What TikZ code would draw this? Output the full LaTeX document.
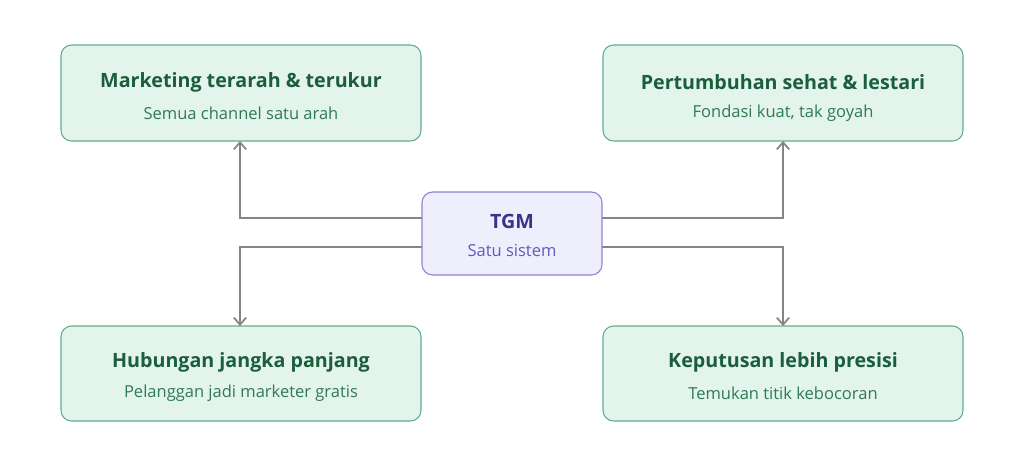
\documentclass[tikz,border=0pt]{standalone}
\usepackage{fontspec}
\setmainfont{Open Sans}
\usetikzlibrary{arrows.meta}
\definecolor{gfill}{HTML}{E3F4EC}
\definecolor{gline}{HTML}{5FAE88}
\definecolor{gtitle}{HTML}{1B5E3D}
\definecolor{gsub}{HTML}{2F7A55}
\definecolor{pfill}{HTML}{EEEEFD}
\definecolor{pline}{HTML}{8C82D2}
\definecolor{ptitle}{HTML}{3B3388}
\definecolor{psub}{HTML}{6658BE}
\definecolor{arr}{HTML}{858585}
\begin{document}
\begin{tikzpicture}[x=0.02cm,y=-0.02cm,
 box/.style={draw=gline,fill=gfill,rounded corners=6pt,line width=0.6pt},
 cbox/.style={draw=pline,fill=pfill,rounded corners=6pt,line width=0.6pt},
 t/.style={font=\fontsize{11.2}{13}\selectfont\bfseries,text=gtitle},
 s/.style={font=\fontsize{9.4}{11}\selectfont,text=gsub},
 conn/.style={draw=arr,line width=1pt,-{Straight Barb[length=4pt,width=7pt]}}]
\useasboundingbox (0,0) rectangle (1024,467);
\path[box] (61,45) rectangle (421,141);
\path[box] (603,45) rectangle (963,141);
\path[box] (61,326) rectangle (421,421);
\path[box] (603,326) rectangle (963,421);
\path[cbox] (422,192) rectangle (602,275);
\node[t] (a) at (241,82) {Marketing terarah \& terukur};
\node[s] (a2) at (241,113) {Semua channel satu arah};
\node[t] (b) at (783,82) {Pertumbuhan sehat \& lestari};
\node[s] (b2) at (783,113) {Fondasi kuat, tak goyah};
\node[t] (c) at (241,362) {Hubungan jangka panjang};
\node[s] (c2) at (241,393) {Pelanggan jadi marketer gratis};
\node[t] (d) at (783,362) {Keputusan lebih presisi};
\node[s] (d2) at (783,393) {Temukan titik kebocoran};
\node[t,text=ptitle] (m) at (512,221) {TGM};
\node[s,text=psub] (m2) at (512,251) {Satu sistem};
\coordinate (cl1) at (422,218); \coordinate (cl2) at (422,247);
\coordinate (cr1) at (602,218); \coordinate (cr2) at (602,247);
\coordinate (ta) at (240,141); \coordinate (tb) at (783,141);
\coordinate (tc) at (240,326); \coordinate (td) at (783,326);
\draw[conn] (cl1) -| (ta);
\draw[conn] (cl2) -| (tc);
\draw[conn] (cr1) -| (tb);
\draw[conn] (cr2) -| (td);
\end{tikzpicture}
\end{document}
